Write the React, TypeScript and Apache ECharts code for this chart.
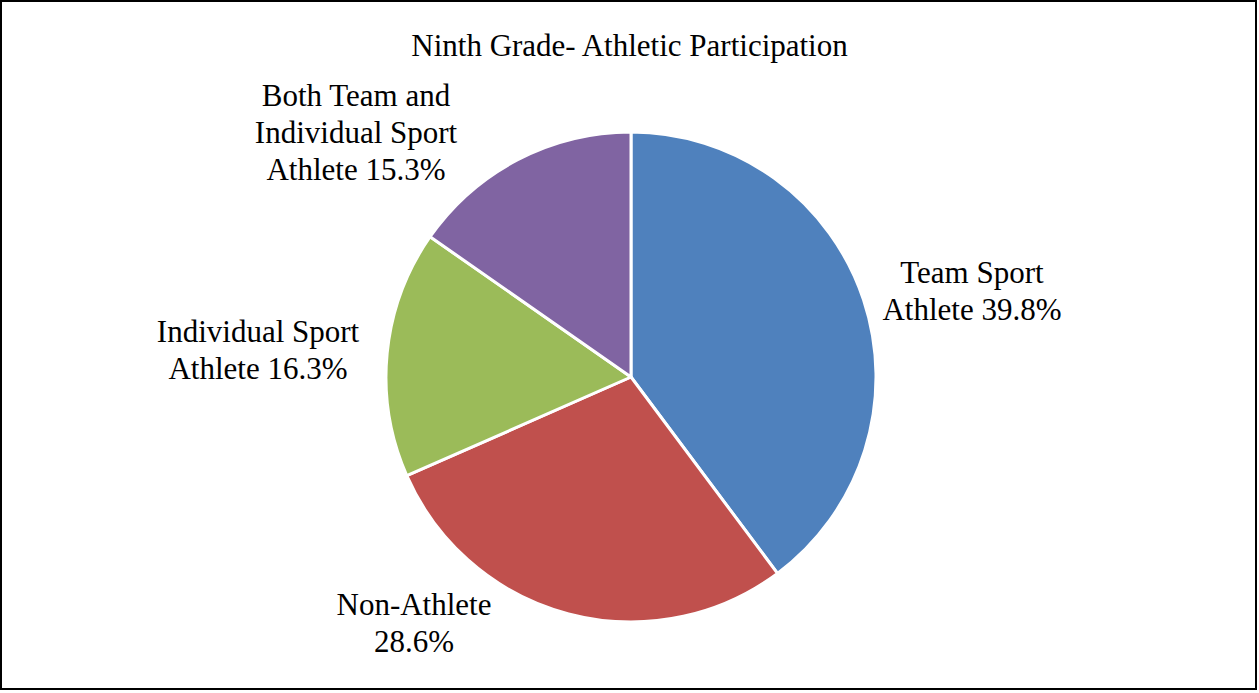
import React, { useEffect, useRef } from "react";
import * as echarts from "echarts";

const categories = [
  "Team Sport\nAthlete",
  "Non-Athlete\n",
  "Individual Sport\nAthlete",
  "Both Team and\nIndividual Sport\nAthlete",
];
const values = [39.8, 28.6, 16.3, 15.3];
const colors = ["#4F81BD", "#C0504D", "#9BBB59", "#8064A2"];
const titleText = "Ninth Grade- Athletic Participation";

// label anchor positions (layout only)
const labelPos = [
  [972, 291],
  [414, 623],
  [258, 350],
  [356, 132],
];

const FONT = "'Liberation Serif', 'Times New Roman', serif";

export default function App() {
  const ref = useRef<HTMLDivElement>(null);
  useEffect(() => {
    document.body.style.margin = "0";
    const chart = echarts.init(ref.current!, null, { renderer: "svg" });
    chart.setOption({
      animation: false,
      backgroundColor: "#ffffff",
      title: {
        text: titleText,
        left: "center",
        top: 25,
        textStyle: { fontFamily: FONT, fontSize: 31, fontWeight: "normal", color: "#000" },
      },
      graphic: [
        {
          type: "rect",
          shape: { x: 1, y: 1, width: 1255, height: 688 },
          style: { fill: "none", stroke: "#000", lineWidth: 2 },
          silent: true,
        },
      ],
      series: [
        {
          type: "pie",
          center: [631, 377],
          radius: 245,
          startAngle: 90,
          clockwise: true,
          data: categories.map((c, i) => ({
            name: c,
            value: values[i],
            itemStyle: { color: colors[i] },
          })),
          itemStyle: { borderColor: "#fff", borderWidth: 3 },
          label: {
            show: true,
            position: "outside",
            formatter: (p: any) => {
              const name = p.name as string;
              if (name.endsWith("\n")) return name + p.value.toFixed(1) + "%";
              return name + " " + p.value.toFixed(1) + "%";
            },
            fontFamily: FONT,
            fontSize: 31,
            lineHeight: 37,
            color: "#000",
            align: "center",
          },
          labelLine: { show: false },
          labelLayout: (params: any) => ({
            x: labelPos[params.dataIndex][0],
            y: labelPos[params.dataIndex][1],
            align: "center",
            verticalAlign: "middle",
          }),
          emphasis: { disabled: true },
        },
      ],
    });
    return () => chart.dispose();
  }, []);
  return <div ref={ref} style={{ width: 1259, height: 693 }} />;
}
